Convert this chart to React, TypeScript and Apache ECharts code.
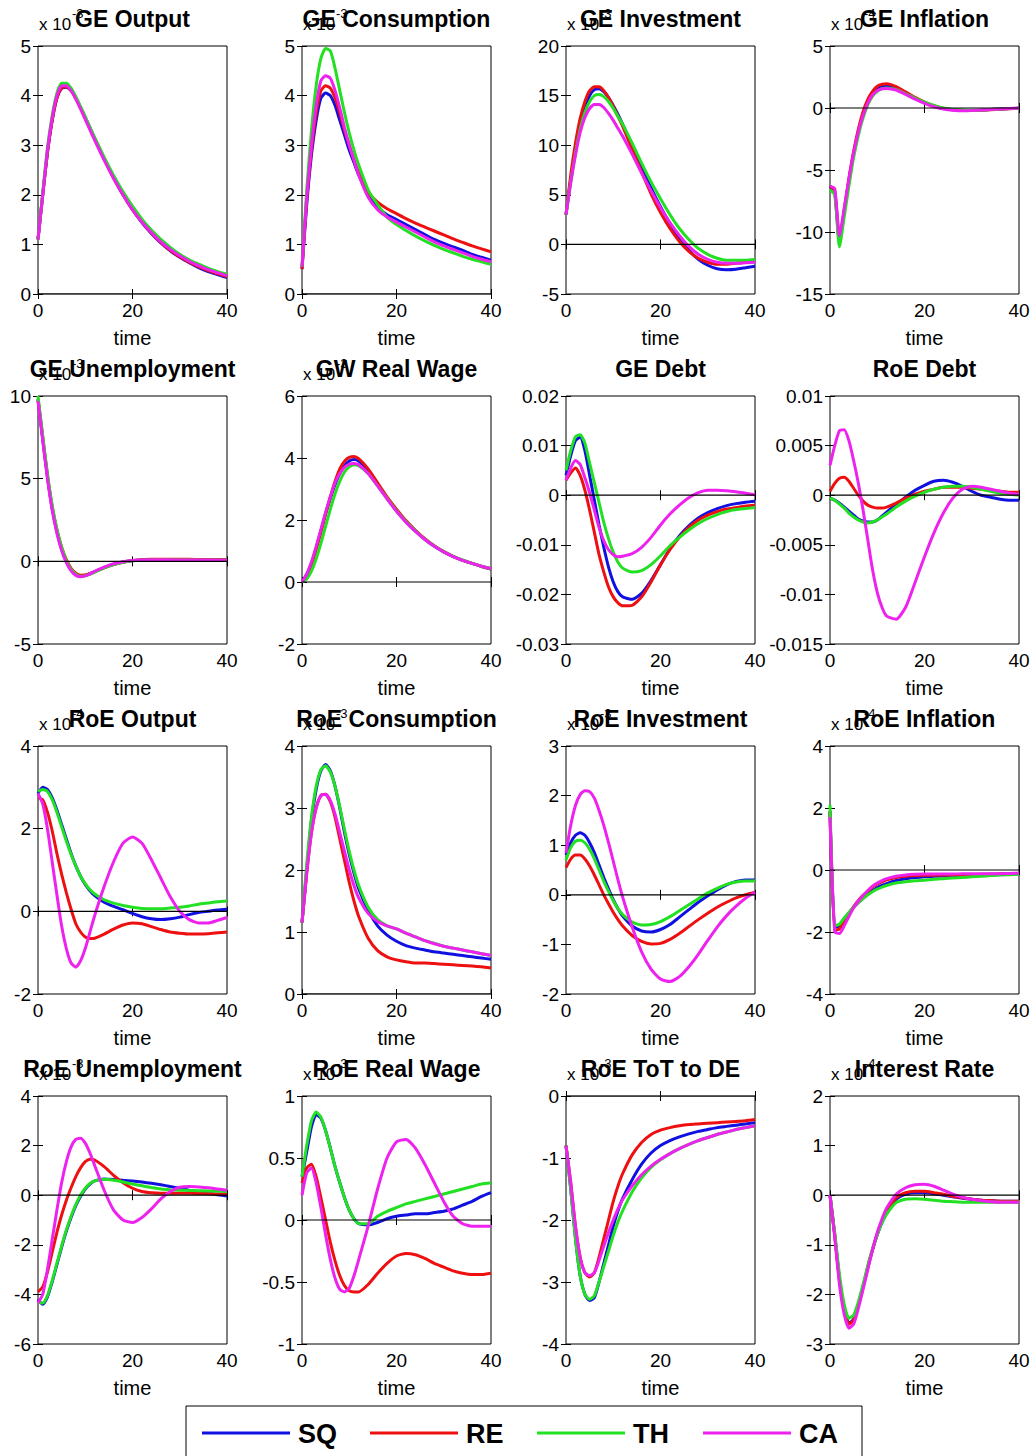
import React, { useEffect, useRef } from "react";
import * as echarts from "echarts";

const TIMES = [0, 1, 2, 3, 4, 5, 6, 7, 8, 9, 10, 11, 12, 14, 16, 18, 20, 22, 24, 26, 28, 30, 32, 34, 36, 38, 40];

const SERIES_NAMES = ["SQ", "RE", "TH", "CA"];
const SERIES_COLORS = ["#1010e0", "#ee1010", "#22e022", "#ee22ee"];

const TITLES = [
  "GE Output", "GE Consumption", "GE Investment", "GE Inflation",
  "GE Unemployment", "GW Real Wage", "GE Debt", "RoE Debt",
  "RoE Output", "RoE Consumption", "RoE Investment", "RoE Inflation",
  "RoE Unemployment", "RoE Real Wage", "RoE ToT to DE", "Interest Rate",
];
const EXPONENTS = ["-3", "-3", "-3", "-4", "-3", "-3", "", "", "-4", "-3", "-3", "-4", "-3", "-3", "-3", "-4"];
const Y_MIN = [0, 0, -5, -15, -5, -2, -0.03, -0.015, -2, 0, -2, -4, -6, -1, -4, -3];
const Y_MAX = [5, 5, 20, 5, 10, 6, 0.02, 0.01, 4, 4, 3, 4, 4, 1, 0, 2];
const Y_STEP = [1, 1, 5, 5, 5, 2, 0.01, 0.005, 2, 1, 1, 2, 2, 0.5, 1, 1];
const X_TICKS = [0, 20, 40];

const GE_OUTPUT = {
  SQ: [1.1, 2.0, 2.85, 3.5, 3.95, 4.15, 4.17, 4.1, 3.95, 3.76, 3.56, 3.35, 3.14, 2.73, 2.35, 2.0, 1.7, 1.44, 1.22, 1.03, 0.87, 0.74, 0.63, 0.53, 0.45, 0.39, 0.33],
  RE: [1.1, 2.0, 2.85, 3.5, 3.95, 4.15, 4.18, 4.1, 3.95, 3.75, 3.54, 3.33, 3.12, 2.72, 2.34, 2.0, 1.7, 1.45, 1.23, 1.04, 0.88, 0.75, 0.64, 0.55, 0.47, 0.41, 0.35],
  TH: [1.1, 2.05, 2.95, 3.6, 4.05, 4.25, 4.25, 4.15, 3.98, 3.78, 3.57, 3.36, 3.15, 2.76, 2.39, 2.06, 1.77, 1.51, 1.29, 1.1, 0.94, 0.8, 0.69, 0.6, 0.52, 0.45, 0.4],
  CA: [1.1, 2.0, 2.9, 3.55, 4.0, 4.2, 4.2, 4.1, 3.93, 3.73, 3.52, 3.31, 3.1, 2.7, 2.33, 2.0, 1.7, 1.45, 1.24, 1.05, 0.9, 0.77, 0.66, 0.57, 0.49, 0.43, 0.37],
};
const GE_CONSUMPTION = {
  SQ: [0.5, 1.8, 2.8, 3.5, 3.95, 4.05, 4.0, 3.8, 3.5, 3.2, 2.9, 2.65, 2.4, 2.0, 1.75, 1.6, 1.5, 1.4, 1.3, 1.2, 1.1, 1.02, 0.95, 0.88, 0.8, 0.74, 0.68],
  RE: [0.5, 1.9, 2.9, 3.65, 4.1, 4.2, 4.15, 3.95, 3.65, 3.3, 3.0, 2.7, 2.45, 2.05, 1.85, 1.72, 1.62, 1.52, 1.43, 1.35, 1.27, 1.19, 1.11, 1.04, 0.97, 0.91, 0.85],
  TH: [0.55, 2.1, 3.3, 4.2, 4.75, 4.95, 4.9, 4.55, 4.1, 3.65, 3.25, 2.9, 2.6, 2.1, 1.8, 1.55, 1.4, 1.28, 1.17, 1.07, 0.98, 0.9, 0.83, 0.76, 0.7, 0.65, 0.6],
  CA: [0.55, 1.95, 3.0, 3.8, 4.3, 4.4, 4.35, 4.1, 3.75, 3.35, 3.0, 2.7, 2.4, 1.95, 1.7, 1.55, 1.45, 1.35, 1.25, 1.15, 1.05, 0.97, 0.9, 0.83, 0.76, 0.7, 0.65],
};
const GE_INVESTMENT = {
  SQ: [3, 6.5, 9.5, 12, 13.8, 15, 15.6, 15.7, 15.4, 14.8, 14, 13.1, 12.1, 10, 7.8, 5.7, 3.8, 2.1, 0.6, -0.6, -1.5, -2.1, -2.45, -2.55, -2.5, -2.35, -2.2],
  RE: [3, 7, 10.2, 12.7, 14.4, 15.5, 15.9, 15.9, 15.5, 14.8, 13.9, 12.9, 11.9, 9.6, 7.3, 5.1, 3.2, 1.6, 0.3, -0.7, -1.4, -1.8, -2.0, -2.0, -1.9, -1.8, -1.7],
  TH: [3, 6.3, 9.2, 11.6, 13.3, 14.4, 15, 15.1, 14.9, 14.4, 13.7, 12.9, 12.1, 10.2, 8.2, 6.3, 4.6, 3.0, 1.6, 0.5, -0.4, -1.0, -1.4, -1.6, -1.6, -1.6, -1.5],
  CA: [3, 6.2, 9, 11.3, 12.8, 13.7, 14.1, 14.1, 13.8, 13.2, 12.5, 11.7, 10.9, 9.1, 7.2, 5.4, 3.7, 2.2, 0.9, -0.2, -1.0, -1.5, -1.8, -1.9, -1.9, -1.85, -1.8],
};
const GE_INFLATION = {
  SQ: [-6.3, -6.8, -10.8, -8.4, -5.9, -3.7, -1.9, -0.5, 0.5, 1.15, 1.55, 1.75, 1.8, 1.6, 1.2, 0.8, 0.45, 0.15, -0.05, -0.15, -0.2, -0.2, -0.17, -0.13, -0.09, -0.05, -0.02],
  RE: [-6.3, -6.7, -10.7, -8.2, -5.7, -3.5, -1.7, -0.3, 0.7, 1.35, 1.75, 1.92, 1.95, 1.72, 1.3, 0.86, 0.48, 0.18, -0.03, -0.15, -0.2, -0.21, -0.19, -0.15, -0.1, -0.06, -0.03],
  TH: [-6.6, -7.0, -11.2, -8.8, -6.3, -4.0, -2.2, -0.8, 0.25, 0.95, 1.35, 1.55, 1.62, 1.5, 1.15, 0.8, 0.47, 0.2, 0.0, -0.12, -0.17, -0.18, -0.16, -0.12, -0.08, -0.05, -0.02],
  CA: [-6.3, -6.5, -10.3, -8.1, -5.7, -3.6, -1.9, -0.6, 0.4, 1.05, 1.4, 1.55, 1.58, 1.45, 1.1, 0.72, 0.38, 0.1, -0.08, -0.18, -0.22, -0.2, -0.16, -0.12, -0.08, -0.04, -0.02],
};
const GE_UNEMPLOYMENT = {
  SQ: [9.8, 7.4, 5.1, 3.2, 1.8, 0.75, 0.0, -0.5, -0.78, -0.88, -0.85, -0.75, -0.62, -0.38, -0.18, -0.04, 0.04, 0.08, 0.1, 0.1, 0.1, 0.1, 0.09, 0.09, 0.08, 0.08, 0.08],
  RE: [9.8, 7.5, 5.2, 3.3, 1.9, 0.85, 0.1, -0.42, -0.72, -0.84, -0.83, -0.75, -0.63, -0.4, -0.2, -0.05, 0.05, 0.1, 0.12, 0.13, 0.13, 0.12, 0.12, 0.11, 0.1, 0.1, 0.1],
  TH: [10, 7.6, 5.3, 3.4, 1.95, 0.85, 0.05, -0.48, -0.78, -0.9, -0.88, -0.78, -0.65, -0.4, -0.2, -0.05, 0.03, 0.07, 0.08, 0.08, 0.08, 0.08, 0.08, 0.07, 0.07, 0.07, 0.07],
  CA: [9.7, 7.3, 5.0, 3.1, 1.7, 0.65, -0.08, -0.58, -0.85, -0.93, -0.88, -0.76, -0.6, -0.35, -0.15, -0.02, 0.05, 0.08, 0.09, 0.09, 0.09, 0.08, 0.08, 0.08, 0.08, 0.07, 0.07],
};
const GW_REAL_WAGE = {
  SQ: [0, 0.25, 0.6, 1.1, 1.65, 2.2, 2.7, 3.15, 3.5, 3.75, 3.9, 3.95, 3.9, 3.6, 3.15, 2.7, 2.3, 1.95, 1.65, 1.38, 1.15, 0.97, 0.82, 0.7, 0.6, 0.5, 0.42],
  RE: [0, 0.2, 0.55, 1.05, 1.6, 2.2, 2.75, 3.25, 3.65, 3.9, 4.02, 4.05, 3.98, 3.65, 3.2, 2.75, 2.35, 1.98, 1.67, 1.4, 1.17, 0.98, 0.83, 0.7, 0.6, 0.5, 0.42],
  TH: [0, 0.1, 0.35, 0.75, 1.25, 1.8, 2.35, 2.85, 3.25, 3.55, 3.72, 3.78, 3.75, 3.5, 3.1, 2.7, 2.3, 1.95, 1.65, 1.38, 1.16, 0.98, 0.83, 0.71, 0.6, 0.51, 0.44],
  CA: [0, 0.25, 0.65, 1.15, 1.7, 2.25, 2.75, 3.2, 3.5, 3.7, 3.8, 3.82, 3.78, 3.5, 3.1, 2.68, 2.28, 1.93, 1.63, 1.37, 1.15, 0.97, 0.82, 0.7, 0.6, 0.51, 0.43],
};
const GE_DEBT = {
  SQ: [0.004, 0.008, 0.011, 0.0117, 0.009, 0.004, -0.001, -0.006, -0.0105, -0.0145, -0.0175, -0.0195, -0.0205, -0.021, -0.0198, -0.0172, -0.014, -0.0108, -0.0082, -0.0062, -0.0046, -0.0035, -0.0027, -0.0021, -0.0017, -0.0014, -0.0012],
  RE: [0.003, 0.0045, 0.0055, 0.004, 0.001, -0.003, -0.0075, -0.012, -0.0155, -0.0185, -0.0205, -0.0217, -0.0223, -0.0222, -0.0205, -0.0175, -0.014, -0.011, -0.0085, -0.0065, -0.005, -0.004, -0.0033, -0.0028, -0.0025, -0.0022, -0.002],
  TH: [0.005, 0.009, 0.0118, 0.0122, 0.0105, 0.0065, 0.0025, -0.0015, -0.0055, -0.0088, -0.0115, -0.0135, -0.0147, -0.0155, -0.0152, -0.014, -0.0122, -0.0102, -0.0085, -0.007, -0.0057, -0.0047, -0.0039, -0.0033, -0.0029, -0.0027, -0.0025],
  CA: [0.003, 0.0055, 0.007, 0.0062, 0.0035, 0.0005, -0.003, -0.0065, -0.0092, -0.011, -0.012, -0.0124, -0.0123, -0.0118, -0.0105, -0.0085, -0.006, -0.0038, -0.002, -0.0005, 0.0005, 0.001, 0.001, 0.0009, 0.0007, 0.0004, 0.0001],
};
const ROE_DEBT = {
  SQ: [-0.0003, -0.0005, -0.0008, -0.0012, -0.0016, -0.002, -0.0024, -0.0026, -0.0027, -0.0027, -0.0025, -0.0021, -0.0017, -0.0009, -0.0002, 0.0005, 0.001, 0.0014, 0.0015, 0.0013, 0.0009, 0.0004, 0.0, -0.0002, -0.0004, -0.0005, -0.0005],
  RE: [0.0004, 0.0012, 0.0017, 0.0018, 0.0014, 0.0007, 0.0, -0.0006, -0.001, -0.0012, -0.0013, -0.0013, -0.0012, -0.0008, -0.0003, 0.0001, 0.0004, 0.0006, 0.0008, 0.0008, 0.0008, 0.0007, 0.0006, 0.0005, 0.0004, 0.0003, 0.0003],
  TH: [-0.0003, -0.0005, -0.0009, -0.0013, -0.0018, -0.0022, -0.0025, -0.0027, -0.0028, -0.0027, -0.0025, -0.0022, -0.0019, -0.0012, -0.0006, -0.0001, 0.0003, 0.0006, 0.0008, 0.0009, 0.0009, 0.0008, 0.0006, 0.0004, 0.0002, 0.0001, 0.0],
  CA: [0.003, 0.005, 0.0065, 0.0066, 0.0055, 0.0035, 0.0012, -0.0015, -0.0045, -0.0075, -0.0098, -0.0113, -0.0122, -0.0125, -0.0113, -0.0088, -0.0062, -0.0038, -0.0018, -0.0003, 0.0006, 0.0009, 0.0008, 0.0006, 0.0004, 0.0002, 0.0001],
};
const ROE_OUTPUT = {
  SQ: [2.85, 3.0, 2.95, 2.75, 2.45, 2.1, 1.75, 1.4, 1.1, 0.85, 0.65, 0.5, 0.38, 0.22, 0.12, 0.04, -0.05, -0.13, -0.18, -0.2, -0.18, -0.14, -0.08, -0.03, 0.0, 0.03, 0.05],
  RE: [2.75, 2.7, 2.4, 1.95, 1.4, 0.9, 0.45, 0.05, -0.3, -0.5, -0.62, -0.66, -0.65, -0.55, -0.43, -0.33, -0.28, -0.3, -0.37, -0.44, -0.5, -0.53, -0.55, -0.55, -0.54, -0.52, -0.5],
  TH: [2.9, 2.95, 2.9, 2.7, 2.4, 2.05, 1.7, 1.38, 1.1, 0.85, 0.67, 0.52, 0.42, 0.28, 0.2, 0.14, 0.1, 0.07, 0.06, 0.06, 0.08, 0.1, 0.13, 0.17, 0.2, 0.23, 0.25],
  CA: [2.85, 2.6, 2.0, 1.2, 0.4, -0.35, -0.9, -1.25, -1.35, -1.2, -0.9, -0.5, -0.1, 0.6, 1.2, 1.65, 1.8, 1.65, 1.25, 0.8, 0.35, 0.0, -0.2, -0.28, -0.28, -0.22, -0.15],
};
const ROE_CONSUMPTION = {
  SQ: [1.15, 2.0, 2.8, 3.3, 3.6, 3.7, 3.6, 3.35, 3.0, 2.6, 2.25, 1.95, 1.7, 1.35, 1.1, 0.95, 0.85, 0.78, 0.74, 0.71, 0.68, 0.66, 0.64, 0.62, 0.6, 0.58, 0.56],
  RE: [1.15, 1.95, 2.6, 3.0, 3.2, 3.22, 3.1, 2.85, 2.5, 2.15, 1.8, 1.5, 1.25, 0.9, 0.7, 0.6, 0.55, 0.52, 0.5, 0.5, 0.49, 0.48, 0.47, 0.46, 0.45, 0.44, 0.42],
  TH: [1.15, 2.1, 2.85, 3.35, 3.62, 3.68, 3.58, 3.35, 3.02, 2.65, 2.3, 2.0, 1.75, 1.4, 1.2, 1.1, 1.05, 0.98, 0.92, 0.86, 0.82, 0.77, 0.74, 0.71, 0.68, 0.65, 0.62],
  CA: [1.15, 1.95, 2.6, 3.0, 3.2, 3.22, 3.12, 2.9, 2.6, 2.3, 2.0, 1.75, 1.55, 1.3, 1.17, 1.1, 1.05, 0.98, 0.92, 0.86, 0.81, 0.77, 0.74, 0.71, 0.68, 0.65, 0.62],
};
const ROE_INVESTMENT = {
  SQ: [0.8, 1.05, 1.2, 1.25, 1.2, 1.05, 0.85, 0.6, 0.35, 0.12, -0.1, -0.28, -0.43, -0.63, -0.73, -0.75, -0.7, -0.6, -0.45, -0.3, -0.15, -0.02, 0.1, 0.2, 0.27, 0.3, 0.3],
  RE: [0.55, 0.72, 0.8, 0.8, 0.72, 0.58, 0.4, 0.2, 0.0, -0.18, -0.35, -0.5, -0.63, -0.82, -0.94, -0.99, -0.98, -0.9, -0.78, -0.64, -0.5, -0.37, -0.25, -0.15, -0.06, 0.0, 0.05],
  TH: [0.7, 0.95, 1.08, 1.1, 1.05, 0.92, 0.73, 0.5, 0.27, 0.07, -0.12, -0.28, -0.4, -0.55, -0.61, -0.6, -0.54, -0.44, -0.32, -0.2, -0.08, 0.04, 0.13, 0.21, 0.26, 0.28, 0.28],
  CA: [0.85, 1.4, 1.8, 2.02, 2.1, 2.08, 1.95, 1.7, 1.4, 1.05, 0.68, 0.3, -0.05, -0.65, -1.15, -1.5, -1.7, -1.75, -1.65, -1.45, -1.2, -0.92, -0.65, -0.42, -0.23, -0.07, 0.05],
};
const ROE_INFLATION = {
  SQ: [1.9, -1.85, -1.8, -1.6, -1.4, -1.2, -1.05, -0.9, -0.78, -0.67, -0.57, -0.5, -0.44, -0.34, -0.28, -0.24, -0.22, -0.2, -0.19, -0.18, -0.17, -0.16, -0.15, -0.14, -0.13, -0.12, -0.12],
  RE: [1.9, -1.95, -1.9, -1.65, -1.4, -1.18, -0.98, -0.82, -0.68, -0.55, -0.45, -0.38, -0.32, -0.24, -0.2, -0.18, -0.17, -0.17, -0.16, -0.16, -0.15, -0.15, -0.14, -0.14, -0.13, -0.13, -0.12],
  TH: [2.1, -1.8, -1.75, -1.55, -1.37, -1.2, -1.05, -0.92, -0.8, -0.7, -0.62, -0.55, -0.5, -0.42, -0.38, -0.35, -0.33, -0.3, -0.28, -0.26, -0.24, -0.22, -0.2, -0.18, -0.16, -0.15, -0.14],
  CA: [1.7, -2.0, -2.05, -1.8, -1.5, -1.22, -1.0, -0.82, -0.66, -0.52, -0.42, -0.34, -0.28, -0.2, -0.16, -0.14, -0.13, -0.13, -0.13, -0.13, -0.12, -0.12, -0.12, -0.12, -0.12, -0.11, -0.1],
};
const ROE_UNEMPLOYMENT = {
  SQ: [-4.2, -4.4, -4.1, -3.5, -2.8, -2.1, -1.45, -0.9, -0.42, -0.05, 0.25, 0.45, 0.58, 0.65, 0.63, 0.6, 0.57, 0.53, 0.48, 0.42, 0.35, 0.28, 0.2, 0.13, 0.07, 0.02, -0.03],
  RE: [-3.9, -3.7, -3.1, -2.3, -1.5, -0.8, -0.2, 0.3, 0.75, 1.1, 1.35, 1.45, 1.42, 1.15, 0.8, 0.5, 0.28, 0.15, 0.1, 0.08, 0.08, 0.08, 0.08, 0.07, 0.06, 0.05, 0.05],
  TH: [-4.3, -4.35, -4.05, -3.45, -2.75, -2.05, -1.4, -0.85, -0.38, 0.0, 0.28, 0.47, 0.58, 0.64, 0.6, 0.53, 0.45, 0.38, 0.31, 0.25, 0.22, 0.2, 0.19, 0.18, 0.17, 0.16, 0.15],
  CA: [-4.35, -4.0, -3.0, -1.8, -0.6, 0.5, 1.35, 1.95, 2.25, 2.3, 2.1, 1.7, 1.2, 0.2, -0.6, -1.0, -1.1, -0.9, -0.55, -0.15, 0.15, 0.32, 0.35, 0.33, 0.3, 0.25, 0.2],
};
const ROE_REAL_WAGE = {
  SQ: [0.35, 0.55, 0.75, 0.85, 0.82, 0.72, 0.58, 0.43, 0.3, 0.18, 0.08, 0.01, -0.03, -0.04, -0.02, 0.01, 0.03, 0.04, 0.05, 0.05, 0.06, 0.07, 0.09, 0.12, 0.15, 0.19, 0.22],
  RE: [0.3, 0.42, 0.45, 0.35, 0.18, 0.0, -0.18, -0.33, -0.45, -0.53, -0.57, -0.58, -0.58, -0.52, -0.43, -0.35, -0.29, -0.27, -0.28, -0.31, -0.35, -0.38, -0.41, -0.43, -0.44, -0.44, -0.43],
  TH: [0.35, 0.6, 0.8, 0.87, 0.83, 0.72, 0.58, 0.43, 0.3, 0.18, 0.08, 0.01, -0.03, -0.03, 0.03, 0.07, 0.1, 0.13, 0.15, 0.17, 0.19, 0.21, 0.23, 0.25, 0.27, 0.29, 0.3],
  CA: [0.2, 0.38, 0.42, 0.3, 0.1, -0.12, -0.32, -0.47, -0.56, -0.58, -0.55, -0.45, -0.32, -0.05, 0.25, 0.5, 0.63, 0.65, 0.58, 0.45, 0.3, 0.15, 0.03, -0.03, -0.05, -0.05, -0.05],
};
const ROE_TOT = {
  SQ: [-0.8, -1.5, -2.3, -2.9, -3.2, -3.3, -3.25, -3.0, -2.7, -2.4, -2.1, -1.85, -1.65, -1.35, -1.1, -0.92, -0.8, -0.72, -0.66, -0.61, -0.57, -0.54, -0.51, -0.49, -0.47, -0.45, -0.43],
  RE: [-0.8, -1.4, -2.1, -2.6, -2.85, -2.92, -2.85, -2.6, -2.3, -2.0, -1.7, -1.45, -1.25, -0.95, -0.75, -0.62, -0.55, -0.51, -0.48, -0.46, -0.45, -0.44, -0.43, -0.42, -0.41, -0.4, -0.38],
  TH: [-0.8, -1.5, -2.3, -2.9, -3.2, -3.28, -3.22, -3.0, -2.75, -2.5, -2.25, -2.03, -1.85, -1.55, -1.32, -1.15, -1.03, -0.93, -0.85, -0.78, -0.72, -0.67, -0.62, -0.58, -0.54, -0.51, -0.48],
  CA: [-0.8, -1.4, -2.1, -2.6, -2.85, -2.9, -2.85, -2.65, -2.42, -2.2, -2.0, -1.82, -1.67, -1.45, -1.27, -1.13, -1.02, -0.93, -0.85, -0.78, -0.72, -0.67, -0.62, -0.58, -0.54, -0.51, -0.48],
};
const INTEREST_RATE = {
  SQ: [0, -0.8, -1.7, -2.3, -2.58, -2.5, -2.2, -1.85, -1.45, -1.1, -0.8, -0.55, -0.35, -0.08, 0.02, 0.05, 0.05, 0.03, 0.0, -0.03, -0.06, -0.08, -0.1, -0.11, -0.12, -0.12, -0.12],
  RE: [0, -0.8, -1.7, -2.3, -2.6, -2.52, -2.22, -1.85, -1.45, -1.1, -0.78, -0.52, -0.32, -0.05, 0.05, 0.08, 0.08, 0.05, 0.02, -0.02, -0.05, -0.08, -0.1, -0.11, -0.12, -0.12, -0.12],
  TH: [0, -0.75, -1.6, -2.2, -2.48, -2.42, -2.15, -1.8, -1.42, -1.08, -0.8, -0.56, -0.38, -0.15, -0.08, -0.07, -0.08, -0.1, -0.12, -0.13, -0.14, -0.14, -0.14, -0.14, -0.14, -0.14, -0.14],
  CA: [0, -0.85, -1.8, -2.4, -2.68, -2.6, -2.28, -1.9, -1.5, -1.1, -0.75, -0.48, -0.26, 0.02, 0.15, 0.21, 0.22, 0.18, 0.1, 0.02, -0.04, -0.08, -0.11, -0.13, -0.14, -0.14, -0.14],
};

const PANELS = [
  GE_OUTPUT, GE_CONSUMPTION, GE_INVESTMENT, GE_INFLATION,
  GE_UNEMPLOYMENT, GW_REAL_WAGE, GE_DEBT, ROE_DEBT,
  ROE_OUTPUT, ROE_CONSUMPTION, ROE_INVESTMENT, ROE_INFLATION,
  ROE_UNEMPLOYMENT, ROE_REAL_WAGE, ROE_TOT, INTEREST_RATE,
];

const FONT = "'Liberation Sans', Arial, Helvetica, sans-serif";
const PLOT_LEFT0 = 38;
const PLOT_TOP0 = 46;
const COL_STEP = 264;
const ROW_STEP = 350;
const PLOT_W = 189;
const PLOT_H = 248;

const fmt = (v: number) => String(parseFloat(Number(v).toFixed(6)));

function buildOption() {
  const grid: any[] = [];
  const xAxis: any[] = [];
  const yAxis: any[] = [];
  const series: any[] = [];
  const graphic: any[] = [];

  PANELS.forEach((panel: any, i: number) => {
    const col = i % 4;
    const row = Math.floor(i / 4);
    const left = PLOT_LEFT0 + col * COL_STEP;
    const top = PLOT_TOP0 + row * ROW_STEP;
    grid.push({
      left, top, width: PLOT_W, height: PLOT_H,
      show: true, borderColor: "#000", borderWidth: 1, backgroundColor: "#fff",
    });
    const tick = { show: true, inside: true, length: 5, lineStyle: { color: "#000", width: 1 } };
    xAxis.push({
      gridIndex: i, type: "value", position: "bottom",
      min: X_TICKS[0], max: X_TICKS[X_TICKS.length - 1], interval: X_TICKS[1] - X_TICKS[0],
      axisLine: { show: false }, axisTick: tick, splitLine: { show: false },
      axisLabel: { show: true, color: "#000", fontSize: 19, fontFamily: FONT, margin: 7, showMinLabel: true, showMaxLabel: true },
    });
    xAxis.push({
      gridIndex: i, type: "value", position: "top",
      min: X_TICKS[0], max: X_TICKS[X_TICKS.length - 1], interval: X_TICKS[1] - X_TICKS[0],
      axisLine: { show: false }, axisTick: tick, splitLine: { show: false }, axisLabel: { show: false },
    });
    yAxis.push({
      gridIndex: i, type: "value", position: "left",
      min: Y_MIN[i], max: Y_MAX[i], interval: Y_STEP[i],
      axisLine: { show: false }, axisTick: tick, splitLine: { show: false },
      axisLabel: { show: true, color: "#000", fontSize: 19, fontFamily: FONT, margin: 7, formatter: fmt, showMinLabel: true, showMaxLabel: true },
    });
    yAxis.push({
      gridIndex: i, type: "value", position: "right",
      min: Y_MIN[i], max: Y_MAX[i], interval: Y_STEP[i],
      axisLine: { show: false }, axisTick: tick, splitLine: { show: false }, axisLabel: { show: false },
    });

    SERIES_NAMES.forEach((name, s) => {
      const vals: number[] = panel[name];
      series.push({
        name, type: "line", xAxisIndex: 2 * i, yAxisIndex: 2 * i,
        data: TIMES.map((t, k) => [t, vals[k]]),
        showSymbol: false, symbol: "none", smooth: 0.2, silent: true,
        lineStyle: { color: SERIES_COLORS[s], width: 3 },
        itemStyle: { color: SERIES_COLORS[s] },
        z: 2 + s,
      });
    });
    series.push({
      type: "line", xAxisIndex: 2 * i, yAxisIndex: 2 * i,
      data: [[X_TICKS[0], 0], [X_TICKS[X_TICKS.length - 1], 0]],
      showSymbol: false, symbol: "none", silent: true,
      lineStyle: { color: "#000", width: 1.2 }, z: 10,
    });

    if (EXPONENTS[i]) {
      graphic.push({
        type: "text", left: left + 1, top: top - 30, z: 5,
        style: { text: "x 10", fill: "#000", font: `17px ${FONT}` },
      });
      graphic.push({
        type: "text", left: left + 34, top: top - 39, z: 5,
        style: { text: EXPONENTS[i], fill: "#000", font: `13px ${FONT}` },
      });
    }
    graphic.push({
      type: "text", x: left + PLOT_W / 2, y: top - 27, z: 6,
      style: { text: TITLES[i], fill: "#000", font: `bold 23px ${FONT}`, textAlign: "center", textVerticalAlign: "middle" },
    });
    graphic.push({
      type: "text", x: left + PLOT_W / 2, y: top + PLOT_H + 44, z: 6,
      style: { text: "time", fill: "#000", font: `20px ${FONT}`, textAlign: "center", textVerticalAlign: "middle" },
    });
  });

  // legend
  const legendX = [202, 370, 537, 703];
  graphic.push({
    type: "rect", shape: { x: 186, y: 1406, width: 676, height: 60 },
    style: { fill: "#fff", stroke: "#000", lineWidth: 1 }, z: 1,
  });
  SERIES_NAMES.forEach((name, s) => {
    graphic.push({
      type: "line", shape: { x1: legendX[s], y1: 1433, x2: legendX[s] + 88, y2: 1433 },
      style: { stroke: SERIES_COLORS[s], lineWidth: 3 }, z: 2,
    });
    graphic.push({
      type: "text", x: legendX[s] + 96, y: 1434, z: 2,
      style: { text: name, fill: "#000", font: `bold 27px ${FONT}`, textVerticalAlign: "middle" },
    });
  });

  return {
    animation: false,
    backgroundColor: "#fff",
    grid, xAxis, yAxis, series, graphic,
  };
}

export default function App() {
  const ref = useRef<HTMLDivElement>(null);
  useEffect(() => {
    if (!ref.current) return;
    const chart = echarts.init(ref.current, undefined, { renderer: "svg" });
    chart.setOption(buildOption() as any);
    return () => chart.dispose();
  }, []);
  return (
    <div
      ref={ref}
      style={{ position: "absolute", left: 0, top: 0, width: 1036, height: 1456, background: "#fff" }}
    />
  );
}
